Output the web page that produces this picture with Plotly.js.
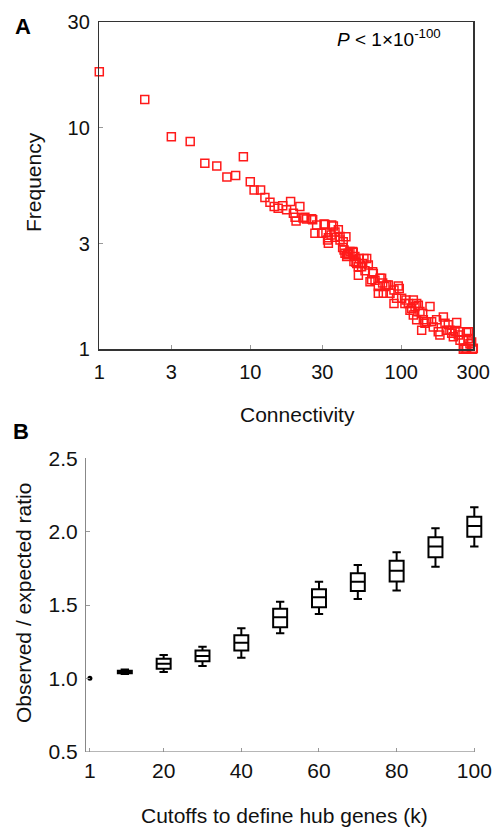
<!DOCTYPE html>
<html>
<head>
<meta charset="utf-8">
<script src="https://cdn.plot.ly/plotly-3.0.1.min.js"></script>
<style>
html,body{margin:0;padding:0;background:#fff;}
#chart{width:497px;height:830px;}
</style>
</head>
<body>
<div id="chart"></div>
<script>
// Panel A: connectivity distribution (log-log)
const connectivity = [
  1, 2, 3, 4, 5, 6, 7, 8, 9, 10,
  10.6, 11.7, 12.5, 13.5, 14.4, 15.3, 16.4, 17.4, 18.5, 19.3,
  19.8, 20.1, 21.3, 22.4, 23.0, 23.6, 25.5, 25.9, 26.8, 27.5,
  29.7, 30.8, 31.3, 31.7, 32.5, 32.9, 32.9, 34.3, 34.6, 35.5,
  36.4, 36.4, 38.3, 39.3, 39.3, 40.9, 41.3, 41.8, 42.4, 43.0,
  43.5, 43.9, 44.6, 45.7, 47.6, 48.1, 48.6, 49.3, 50.1, 50.7,
  51.9, 52.0, 52.7, 54.6, 55.5, 56.6, 57.5, 59.0, 60.5, 62.1,
  63.7, 64.6, 65.3, 67.0, 70.5, 70.5, 72.3, 74.1, 75.3, 76.0,
  78.0, 80.0, 82.0, 84.2, 89.5, 89.5, 93.1, 95.5, 97.0, 100.6,
  105.7, 107.5, 111.4, 114.2, 117.2, 120.2, 120.2, 123.3, 126.5, 126.5,
  129.7, 133.0, 136.5, 138.7, 140.0, 143.5, 147.3, 155.0, 158.9, 163.0,
  171.4, 175.8, 180.3, 190.0, 194.9, 200.0, 205.0, 210.0, 215.8, 221.3,
  227.0, 232.8, 238.8, 245.0, 245.0, 257.6, 257.6, 264.2, 271.0, 271.0,
  278.0, 278.0, 285.0, 292.4, 297.0, 300
];
const frequency = [
  17.9, 13.4, 9.1, 8.67, 6.92, 6.71, 6.0, 6.08, 7.39, 5.71,
  5.24, 5.24, 4.84, 4.61, 4.41, 4.33, 4.45, 4.26, 4.65, 4.11,
  3.94, 3.79, 4.41, 3.91, 3.94, 3.87, 3.88, 3.84, 3.34, 3.64,
  3.34, 3.68, 3.66, 3.36, 3.11, 3.19, 3.01, 3.28, 3.64, 3.60,
  3.38, 3.20, 3.46, 3.23, 3.11, 2.88, 3.06, 2.81, 2.71, 3.22,
  2.62, 2.67, 2.71, 2.76, 2.76, 2.74, 2.49, 2.62, 2.47, 2.44,
  2.36, 2.16, 2.57, 2.36, 2.44, 2.57, 2.26, 2.57, 2.40, 2.02,
  2.06, 2.24, 2.20, 2.05, 1.92, 1.79, 2.09, 2.09, 1.99, 1.79,
  1.92, 1.95, 1.95, 1.79, 1.85, 1.61, 1.70, 1.93, 1.88, 1.70,
  1.61, 1.67, 1.61, 1.50, 1.53, 1.67, 1.43, 1.56, 1.36, 1.61,
  1.58, 1.48, 1.22, 1.45, 1.36, 1.31, 1.33, 1.56, 1.33, 1.26,
  1.36, 1.20, 1.16, 1.40, 1.31, 1.22, 1.29, 1.22, 1.18, 1.14,
  1.20, 1.32, 1.16, 1.20, 1.10, 1.10, 1.00, 1.01, 1.19, 1.01,
  1.12, 1.20, 1.06, 1.08, 1.00, 1.01
];
const logTickVals = [1, 3, 10, 30, 100, 300];
const logTickText = ['1', '3', '10', '30', '100', '300'];
const freqTickVals = [1, 3, 10, 30];
const freqTickText = ['1', '3', '10', '30'];

// Panel B: observed / expected ratio by cutoff
const baselineCutoff = [1];
const baselineRatio = [1.0];
const cutoffs = [10, 20, 30, 40, 50, 60, 70, 80, 90, 100];
const lowerWhisker = [1.030, 1.043, 1.084, 1.141, 1.307, 1.439, 1.541, 1.598, 1.761, 1.898];
const q1 = [1.034, 1.066, 1.116, 1.189, 1.348, 1.484, 1.595, 1.661, 1.825, 1.966];
const median = [1.043, 1.100, 1.152, 1.243, 1.416, 1.552, 1.659, 1.734, 1.898, 2.039];
const q3 = [1.052, 1.134, 1.189, 1.293, 1.475, 1.607, 1.716, 1.802, 1.961, 2.102];
const upperWhisker = [1.061, 1.159, 1.216, 1.341, 1.523, 1.659, 1.773, 1.859, 2.023, 2.166];
const cutoffTickVals = [1, 20, 40, 60, 80, 100];
const cutoffTickText = ['1', '20', '40', '60', '80', '100'];
const ratioTickVals = [0.5, 1.0, 1.5, 2.0, 2.5];
const ratioTickText = ['0.5', '1.0', '1.5', '2.0', '2.5'];
const cutoffAxisMin = 0, cutoffAxisMax = 100, cutoffViewMax = 103;
const ratioAxisMin = 0.5, ratioAxisMax = 2.5;

const FONT = 'Liberation Sans, Arial, Helvetica, sans-serif';
const W = 497, H = 830;
const px = v => v / W;
const py = v => 1 - v / H;

const traces = [
  {
    type: 'scatter', mode: 'markers',
    x: connectivity, y: frequency,
    xaxis: 'x', yaxis: 'y',
    cliponaxis: false,
    marker: {symbol: 'square-open', size: 8, color: '#ff1a1a', line: {width: 1.5, color: '#ff1a1a'}},
    hoverinfo: 'x+y', showlegend: false
  },
  {
    type: 'box',
    x: cutoffs, q1: q1, median: median, q3: q3,
    lowerfence: lowerWhisker, upperfence: upperWhisker,
    xaxis: 'x2', yaxis: 'y2',
    width: 3.6, whiskerwidth: 0.6,
    boxpoints: false,
    fillcolor: 'rgba(255,255,255,0)',
    line: {color: '#000', width: 2},
    showlegend: false
  },
  {
    type: 'scatter', mode: 'markers',
    x: baselineCutoff, y: baselineRatio,
    xaxis: 'x2', yaxis: 'y2',
    cliponaxis: false,
    marker: {symbol: 'circle', size: 5, color: '#000', line: {width: 0}},
    showlegend: false
  }
];

const tickFontA = {family: FONT, size: 20, color: '#111'};
const tickFontB = {family: FONT, size: 21, color: '#111'};
const titleFont = {family: FONT, size: 21, color: '#111'};

// x-axis of panel B spans 0..100 visually; the view extends slightly so the last box is not clipped
const bLeft = 86, bRight100 = 474.3;
const bRightView = bLeft + (bRight100 - bLeft) * (cutoffViewMax - cutoffAxisMin) / (cutoffAxisMax - cutoffAxisMin);

const layout = {
  width: W, height: H,
  margin: {l: 0, r: 0, t: 0, b: 0},
  paper_bgcolor: '#fff', plot_bgcolor: '#fff',
  font: {family: FONT, color: '#111'},
  showlegend: false,
  xaxis: {
    domain: [px(99.3), px(473.3)], anchor: 'y',
    type: 'log', range: [0, Math.log10(300)],
    tickvals: logTickVals, ticktext: logTickText,
    ticks: 'inside', ticklen: 4, tickcolor: '#999', tickwidth: 1,
    showline: true, linecolor: '#333', linewidth: 1.5, mirror: true,
    showgrid: false, zeroline: false,
    tickfont: tickFontA, ticklabelstandoff: 4
  },
  yaxis: {
    domain: [py(349.3), py(22)], anchor: 'x',
    type: 'log', range: [0, Math.log10(30)],
    tickvals: freqTickVals, ticktext: freqTickText,
    ticks: 'inside', ticklen: 4, tickcolor: '#999', tickwidth: 1,
    showline: true, linecolor: '#333', linewidth: 1.5, mirror: true,
    showgrid: false, zeroline: false,
    tickfont: tickFontA, ticklabelstandoff: 4
  },
  xaxis2: {
    domain: [px(bLeft), px(bRightView)], anchor: 'y2',
    range: [cutoffAxisMin, cutoffViewMax],
    tickvals: cutoffTickVals, ticktext: cutoffTickText,
    ticks: 'inside', ticklen: 4, tickcolor: '#999', tickwidth: 1,
    showline: false,
    showgrid: false, zeroline: false,
    tickfont: tickFontB, ticklabelstandoff: 4
  },
  yaxis2: {
    domain: [py(751.7), py(458.3)], anchor: 'x2',
    range: [ratioAxisMin, ratioAxisMax],
    tickvals: ratioTickVals, ticktext: ratioTickText,
    ticks: 'inside', ticklen: 4, tickcolor: '#999', tickwidth: 1,
    showline: true, linecolor: '#888', linewidth: 1, mirror: false,
    showgrid: false, zeroline: false,
    tickfont: tickFontB, ticklabelstandoff: 3
  },
  shapes: [
    {type: 'line', xref: 'x2', yref: 'y2', x0: cutoffAxisMin, x1: cutoffAxisMax, y0: ratioAxisMin, y1: ratioAxisMin,
     line: {color: '#888', width: 1}, layer: 'above'}
  ],
  annotations: [
    {text: '<b>A</b>', xref: 'paper', yref: 'paper', x: px(22.5), y: py(26.5),
     xanchor: 'center', yanchor: 'middle', showarrow: false, font: {family: FONT, size: 22, color: '#000'}},
    {text: '<b>B</b>', xref: 'paper', yref: 'paper', x: px(21), y: py(431),
     xanchor: 'center', yanchor: 'middle', showarrow: false, font: {family: FONT, size: 22, color: '#000'}},
    {text: '<i>P</i> &lt; 1×10<sup>-100</sup>', xref: 'paper', yref: 'paper', x: px(389), y: py(38),
     xanchor: 'center', yanchor: 'middle', showarrow: false, font: {family: FONT, size: 19, color: '#000'}},
    {text: 'Connectivity', xref: 'paper', yref: 'paper', x: px(297), y: py(414),
     xanchor: 'center', yanchor: 'middle', showarrow: false, font: titleFont},
    {text: 'Frequency', xref: 'paper', yref: 'paper', x: px(33), y: py(182),
     xanchor: 'center', yanchor: 'middle', textangle: -90, showarrow: false, font: titleFont},
    {text: 'Observed / expected ratio', xref: 'paper', yref: 'paper', x: px(23), y: py(603),
     xanchor: 'center', yanchor: 'middle', textangle: -90, showarrow: false, font: titleFont},
    {text: 'Cutoffs to define hub genes (k)', xref: 'paper', yref: 'paper', x: px(284), y: py(815),
     xanchor: 'center', yanchor: 'middle', showarrow: false, font: titleFont}
  ]
};

Plotly.newPlot('chart', traces, layout, {displayModeBar: false, staticPlot: true});
</script>
</body>
</html>
